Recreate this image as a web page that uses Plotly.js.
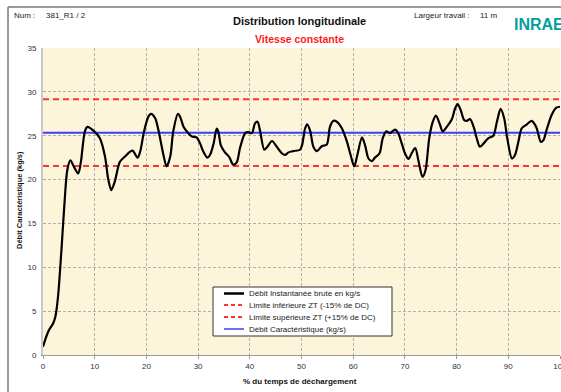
<!DOCTYPE html>
<html>
<head>
<meta charset="utf-8">
<script src="https://cdn.plot.ly/plotly-3.0.1.min.js"></script>
<style>html,body{margin:0;padding:0;background:#fff;}#chart{width:561px;height:392px;}</style>
</head>
<body>
<div id="chart"></div>
<script>
// ---- data ----
const timePct = [0,1.0,1.95,2.4,2.9,3.57,4.2,4.7,5.3,5.95,6.8,7.3,8.1,8.6,9.7,11.0,12.0,12.6,13.2,13.9,14.85,15.8,17.3,18.3,18.8,19.55,20.4,20.9,21.7,22.3,23.3,23.9,24.6,25.2,26.1,26.5,27.2,28.1,28.8,29.7,30.4,31.0,31.8,32.3,33.0,33.6,33.9,34.4,35.2,36.0,36.8,37.5,38.1,39.1,39.7,40.4,41.0,41.5,42.0,42.8,43.4,44.3,45.2,46.2,46.8,47.5,48.4,49.7,50.1,50.7,51.1,51.7,52.3,53.0,53.9,54.9,55.5,56.2,56.8,57.8,58.8,59.5,60.2,60.8,61.7,62.3,62.95,63.6,64.2,65.1,65.7,66.4,67.1,68.1,68.7,69.4,70.0,70.7,71.3,72.0,72.6,73.4,74.0,74.7,75.4,76.0,76.7,77.3,78.1,79.1,79.7,80.2,80.8,81.45,82.0,82.6,83.3,83.9,84.5,85.2,86.1,87.1,87.8,88.5,89.2,89.8,90.7,91.3,91.95,92.6,93.6,94.5,95.4,96.3,96.8,97.5,98.4,99.3,100];
const debitInst = [0.95,2.66,3.6,4.4,6.6,12.0,17.7,21.1,22.2,21.5,20.7,21.9,25.5,26.0,25.6,24.7,22.6,20.1,18.8,19.8,22.0,22.6,23.3,22.5,23.2,25.5,27.2,27.5,27.0,25.7,22.8,21.5,22.6,25.5,27.5,27.2,26.0,25.3,24.9,24.8,24.1,23.2,22.5,22.8,24.1,25.8,25.5,23.9,23.1,22.6,21.7,22.0,23.6,25.3,25.4,25.3,26.4,26.6,25.5,23.4,23.75,24.4,23.75,23.0,22.8,23.1,23.25,23.4,23.9,25.85,26.3,25.5,23.75,23.25,23.8,24.0,26.0,26.7,26.6,25.85,24.3,22.8,21.5,22.8,24.8,23.9,22.4,22.1,22.5,23.0,24.7,25.5,25.3,25.7,25.3,24.1,23.0,22.35,23.0,23.6,22.2,20.3,21.1,24.7,26.6,27.3,26.4,25.5,26.0,26.9,28.1,28.6,27.9,26.8,26.7,26.9,26.0,24.7,23.75,24.1,24.7,25.0,26.6,28.05,27.0,24.7,22.4,22.8,24.3,25.85,26.3,26.7,26.0,24.3,24.5,25.85,27.4,28.2,28.3];
const limitX = [0, 100];
const debitCaract = [25.35, 25.35];
const limiteInf = [21.55, 21.55];
const limiteSup = [29.15, 29.15];
const xTicks = [0,10,20,30,40,50,60,70,80,90,100];
const yTicks = [0,5,10,15,20,25,30,35];
const seriesNames = ["Débit Instantanée brute en kg/s","Limite inférieure ZT (-15% de DC)","Limite supérieure ZT (+15% de DC)","Débit Caractéristique (kg/s)"];

// ---- layout helpers (pixel -> paper) ----
const L = 43, R = 1, T = 48, B = 37, W = 561, H = 392;
const PW = W - L - R, PH = H - T - B;
const px = p => (p - L) / PW;
const py = p => (H - B - p) / PH;
const FONT = "Liberation Sans, Arial, sans-serif";

const traces = [
  {x: limitX, y: limiteInf, mode: 'lines', name: seriesNames[1], line: {color: '#ff3333', width: 2, dash: '6px,4px'}, hoverinfo: 'skip'},
  {x: limitX, y: limiteSup, mode: 'lines', name: seriesNames[2], line: {color: '#ff3333', width: 2, dash: '6px,4px'}, hoverinfo: 'skip'},
  {x: limitX, y: debitCaract, mode: 'lines', name: seriesNames[3], line: {color: '#3c3cff', width: 2}},
  {x: timePct, y: debitInst, mode: 'lines', name: seriesNames[0], line: {color: '#000000', width: 2.2, shape: 'spline', smoothing: 0.8}}
];

const legendRows = [
  {y: 293.5, color: '#000', width: 2.5, dash: 'solid', text: seriesNames[0]},
  {y: 305, color: '#ff3333', width: 2, dash: '4px,3px', text: seriesNames[1]},
  {y: 317, color: '#ff3333', width: 2, dash: '4px,3px', text: seriesNames[2]},
  {y: 329, color: '#3c3cff', width: 1.5, dash: 'solid', text: seriesNames[3]}
];

const shapes = [
  // outer frame
  {type: 'line', xref: 'paper', yref: 'paper', x0: px(8), y0: py(392), x1: px(8), y1: py(7), line: {color: '#7a7a7a', width: 1.5}},
  {type: 'line', xref: 'paper', yref: 'paper', x0: px(8), y0: py(7), x1: px(561), y1: py(7), line: {color: '#7a7a7a', width: 1.5}},
  // legend box
  {type: 'rect', xref: 'paper', yref: 'paper', x0: px(213), y0: py(287), x1: px(392), y1: py(336), fillcolor: '#ffffff', line: {color: '#333', width: 1}}
];
legendRows.forEach(r => shapes.push({type: 'line', xref: 'paper', yref: 'paper', x0: px(224), x1: px(244), y0: py(r.y), y1: py(r.y), line: {color: r.color, width: r.width, dash: r.dash}}));

const ann = (x, y, text, opts) => Object.assign({xref: 'paper', yref: 'paper', x: px(x), y: py(y), text: text, showarrow: false, xanchor: 'left', yanchor: 'middle', font: {family: FONT, size: 8, color: '#222'}}, opts || {});

const annotations = [
  ann(12, 16, 'Num :'),
  ann(44, 16, '381_R1 / 2'),
  ann(299, 21, '<b>Distribution longitudinale</b>', {xanchor: 'center', font: {family: FONT, size: 11, color: '#111'}}),
  ann(299, 39, '<b>Vitesse constante</b>', {xanchor: 'center', font: {family: FONT, size: 10.5, color: '#ff1a1a'}}),
  ann(412, 16, 'Largeur travail :'),
  ann(478, 16, '11 m'),
  ann(512, 25, '<b>INRAE</b>', {font: {family: FONT, size: 16, color: '#00a19a'}}),
  ann(300, 381, '<b>% du temps de déchargement</b>', {xanchor: 'center', font: {family: FONT, size: 8, color: '#111'}}),
  ann(19, 200, '<b>Débit Caractéristique (kg/s)</b>', {xanchor: 'center', textangle: -90, font: {family: FONT, size: 7.5, color: '#111'}})
];
legendRows.forEach(r => annotations.push(ann(247, r.y, r.text, {font: {family: FONT, size: 8, color: '#222'}})));

const layout = {
  width: W, height: H,
  margin: {l: L, r: R, t: T, b: B, pad: 0},
  paper_bgcolor: '#ffffff',
  plot_bgcolor: '#fdf5d9',
  showlegend: false,
  xaxis: {
    range: [0, 100], tickvals: xTicks, ticktext: xTicks.map(String),
    showgrid: true, gridcolor: '#b0b0b0', griddash: '3px,2px', gridwidth: 1,
    zeroline: false, showline: true, linecolor: '#9a9a9a', linewidth: 1,
    ticks: 'outside', ticklen: 3, tickcolor: '#9a9a9a', ticklabeloverflow: 'allow',
    tickfont: {family: FONT, size: 8, color: '#333'}, fixedrange: true
  },
  yaxis: {
    range: [0, 35], tickvals: yTicks, ticktext: yTicks.map(String),
    showgrid: true, gridcolor: '#b0b0b0', griddash: '3px,2px', gridwidth: 1,
    zeroline: false, showline: true, linecolor: '#c8c8c8', linewidth: 2,
    ticks: 'outside', ticklen: 3, tickcolor: '#ffffff',
    tickfont: {family: FONT, size: 8, color: '#333'}, fixedrange: true
  },
  shapes: shapes,
  annotations: annotations
};

Plotly.newPlot('chart', traces, layout, {displayModeBar: false, staticPlot: true});
</script>
</body>
</html>
